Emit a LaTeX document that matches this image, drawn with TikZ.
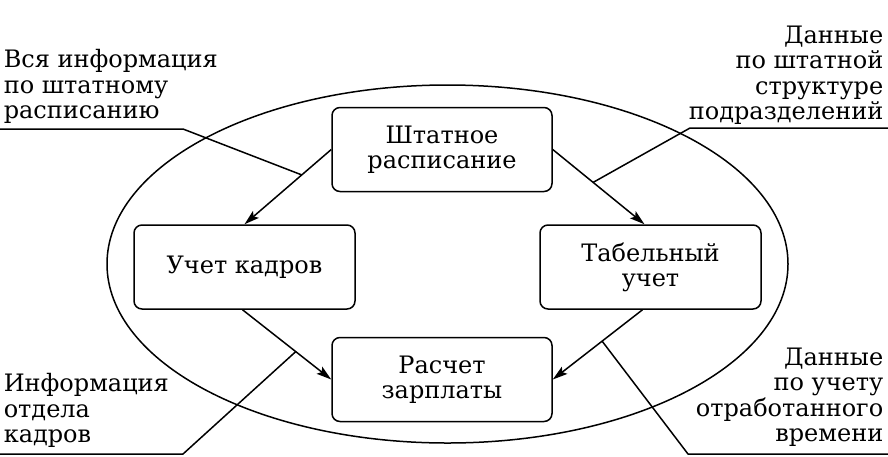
\documentclass[tikz,border=0pt]{standalone}
\usepackage{fontspec}
\setmainfont{DejaVu Serif}
\usetikzlibrary{shapes.geometric,arrows.meta}
\begin{document}
\begin{tikzpicture}[x=1pt,y=-1pt,
  line width=1.5pt, line join=round,
  blk/.style={draw, rounded corners=8pt, minimum width=220pt, minimum height=84pt, align=center, font=\fontsize{24}{25}\selectfont, inner sep=0},
  lbl/.style={inner sep=0, font=\fontsize{24}{25.5}\selectfont},
  arr/.style={-{Stealth[length=15pt,width=9pt,inset=3pt]}}]
\useasboundingbox[fill=white] (0,0) rectangle (888,456);
\node[draw, ellipse, minimum width=681pt, minimum height=358pt, inner sep=0] (ell) at (447.5,264) {};
\node[blk] (sh) at (442,149.5) {Штатное\\расписание};
\node[blk, minimum width=221pt] (uk) at (244.5,267) {Учет кадров};
\node[blk, minimum width=221pt] (tb) at (650.5,267) {Табельный\\учет};
\node[blk] (rs) at (442,379.5) {Расчет\\зарплаты};
\node[lbl, anchor=north west, align=left] (tl) at (3,49) {Вся информация\\по штатному\\расписанию};
\node[lbl, anchor=north east, align=right] (tr) at (884,25) {Данные\\по штатной\\структуре\\подразделений};
\node[lbl, anchor=north west, align=left] (bl) at (3,373) {Информация\\отдела\\кадров};
\node[lbl, anchor=north east, align=right] (br) at (884,347) {Данные\\по учету\\отработанного\\времени};
\draw[arr] (sh.west) -- coordinate[pos=0.34] (a1) (uk.north);
\draw[arr] (sh.east) -- coordinate[pos=0.44] (a2) ([xshift=-6pt]tb.north);
\draw[arr] ([xshift=-2pt]uk.south) -- coordinate[pos=0.6] (a3) (rs.west);
\draw[arr] ([xshift=-8pt]tb.south) -- coordinate[pos=0.45] (a4) (rs.east);
\coordinate (u1s) at (0,129);
\coordinate (u1e) at (183,129);
\coordinate (u2s) at (888,128);
\coordinate (u2e) at (690,128);
\coordinate (u3s) at (0,454);
\coordinate (u3e) at (183,454);
\coordinate (u4s) at (888,454);
\coordinate (u4e) at (688,454);
\draw (u1s) -- (u1e) -- (a1);
\draw (u2s) -- (u2e) -- (a2);
\draw (u3s) -- (u3e) -- (a3);
\draw (u4s) -- (u4e) -- (a4);
\end{tikzpicture}
\end{document}
